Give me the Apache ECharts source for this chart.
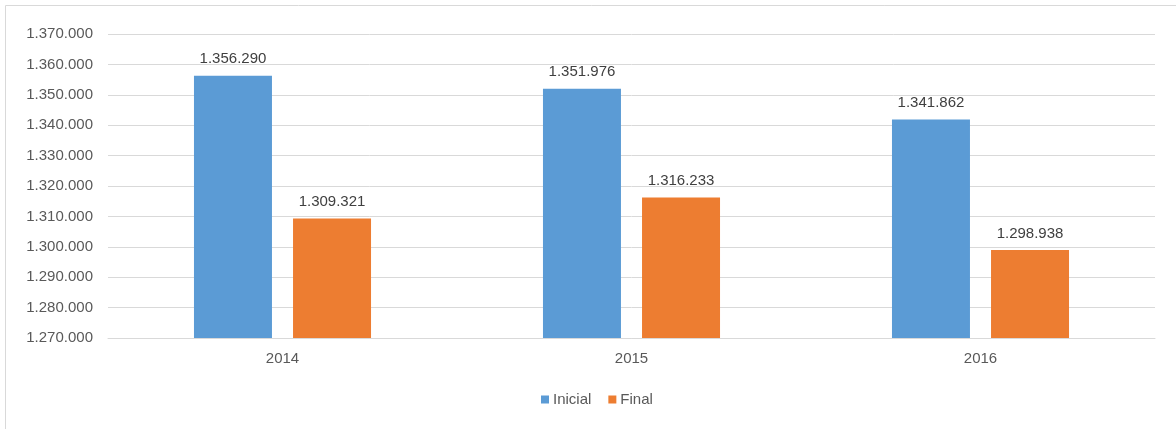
<!DOCTYPE html>
<html><head><meta charset="utf-8">
<script src="https://cdn.jsdelivr.net/npm/echarts@6/dist/echarts.min.js"></script>
<style>html,body{margin:0;padding:0;background:#fff}#c{width:1176px;height:429px}</style>
</head><body><div id="c"></div>
<script>
var categories = ['2014', '2015', '2016'];
var inicial = [1356290, 1351976, 1341862];
var finalV = [1309321, 1316233, 1298938];
var seriesNames = ['Inicial', 'Final'];

function fmt(v) {
  return String(Math.round(v)).replace(/\B(?=(\d{3})+(?!\d))/g, '.');
}
var chart = echarts.init(document.getElementById('c'), null, {renderer: 'canvas'});
var font = 'Liberation Sans, Arial, sans-serif';
chart.setOption({
  animation: false,
  textStyle: {fontFamily: font},
  graphic: [{type: 'rect', shape: {x: 5.5, y: 5.5, width: 1200, height: 450}, style: {fill: 'none', stroke: '#d9d9d9', lineWidth: 1}, silent: true}],
  grid: {left: 108, right: 21, top: 34, bottom: 91, containLabel: false},
  legend: {
    bottom: 17, left: 536, itemWidth: 8, itemHeight: 8, itemGap: 17, icon: 'rect',
    textStyle: {fontSize: 15, color: '#595959', fontFamily: font, padding: [0, 0, 0, -1]},
    data: seriesNames
  },
  xAxis: {
    type: 'category', data: categories,
    axisLine: {lineStyle: {color: '#d9d9d9'}}, axisTick: {show: false},
    axisLabel: {color: '#595959', fontSize: 15, margin: 13, fontFamily: font}
  },
  yAxis: {
    type: 'value', min: 1270000, max: 1370000, interval: 10000,
    axisLine: {show: false}, axisTick: {show: false},
    splitLine: {lineStyle: {color: '#d9d9d9', width: 1}},
    axisLabel: {color: '#595959', fontSize: 15, margin: 15, fontFamily: font, formatter: fmt}
  },
  series: [
    {name: seriesNames[0], type: 'bar', data: inicial, barWidth: 78, barGap: '27%',
     itemStyle: {color: '#5b9bd5'},
     label: {show: true, position: 'top', distance: 9, color: '#404040', fontSize: 15, fontFamily: font, formatter: function(p){return fmt(p.value);}}},
    {name: seriesNames[1], type: 'bar', data: finalV, barWidth: 78,
     itemStyle: {color: '#ed7d31'},
     label: {show: true, position: 'top', distance: 9, color: '#404040', fontSize: 15, fontFamily: font, formatter: function(p){return fmt(p.value);}}}
  ]
});
</script></body></html>
